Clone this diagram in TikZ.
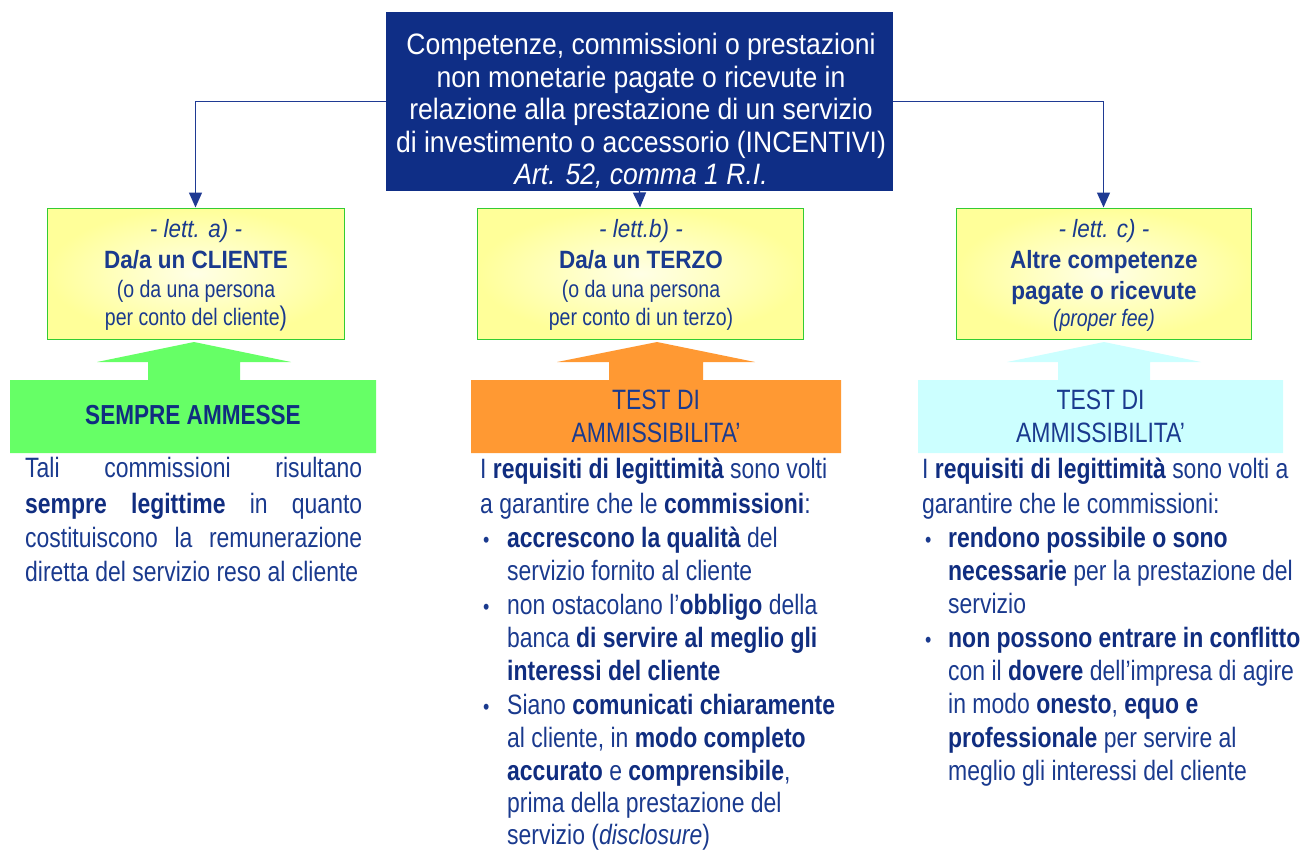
\documentclass[tikz,border=0pt]{standalone}
\usepackage{fontspec}
\setmainfont{Liberation Sans}[FakeStretch=0.9]
\newfontfamily\nf{Liberation Sans}[FakeStretch=0.82]
\usetikzlibrary{arrows.meta}
\definecolor{topblue}{HTML}{0F2E86}
\definecolor{navy}{HTML}{1A3A8E}
\definecolor{bnavy}{HTML}{102D80}
\definecolor{linkblue}{HTML}{1F3A93}
\definecolor{ylwout}{HTML}{FFFF99}
\definecolor{ylwin}{HTML}{FFFFE6}
\definecolor{boxgreen}{HTML}{33CC33}
\definecolor{arrgreen}{HTML}{66FF66}
\definecolor{arrorange}{HTML}{FF9933}
\definecolor{arrcyan}{HTML}{CCFFFF}
\newcommand\hb[1]{\textbf{\color{bnavy}#1}}
\newcommand\fs[1]{\fontsize{#1}{#1}\selectfont}
\newcommand\blt{{\fs{22}\textbullet}}
\tikzset{
  txt/.style={inner sep=0pt, anchor=base west, text=navy, font=\nf\fs{28}},
  ctr/.style={inner sep=0pt, anchor=base, text=navy},
  toptxt/.style={inner sep=0pt, anchor=base, text=white, font=\fs{29.5}},
  ybox/.style={draw=boxgreen, line width=1pt, inner color=ylwin, outer color=ylwout, minimum height=131pt, inner sep=0pt},
  conn/.style={draw=linkblue, line width=1.3pt, -{Triangle[width=13pt,length=15pt]}},
}
\begin{document}
\begin{tikzpicture}[x=1pt,y=-1pt]
\useasboundingbox (0,0) rectangle (1305,851);
% top box
\node[fill=topblue, minimum width=507pt, minimum height=179pt, inner sep=0pt] (top) at (639.5,101.5) {};
\node[toptxt] (t1) at (641,55) {Competenze, commissioni o prestazioni};
\node[toptxt] (t2) at (641,87) {non monetarie pagate o ricevute in};
\node[toptxt] (t3) at (641,119) {relazione alla prestazione di un servizio};
\node[toptxt] (t4) at (641,152) {di investimento o accessorio (INCENTIVI)};
\node[toptxt] (t5) at (641,184) {\itshape Art. 52, comma 1 R.I.};
% yellow boxes
\node[ybox, minimum width=297pt] (boxA) at (195.5,273.5) {};
\node[ybox, minimum width=326pt] (boxB) at (640,273.5) {};
\node[ybox, minimum width=295pt] (boxC) at (1103.5,273.5) {};
% connectors
\draw[conn] (top.west) -| (boxA.north);
\draw[conn] (top.east) -| (boxC.north);
\draw[conn] (top.south) -- (boxB.north);
% box A text
\node[ctr, font=\fs{25}\itshape] (a1) at (196,237) {- lett. a) -};
\node[ctr, font=\fs{25}\bfseries] (a2) at (196,268) {Da/a un CLIENTE};
\node[ctr, font=\nf\fs{23.8}] (a3) at (196,297) {(o da una persona};
\node[ctr, font=\nf\fs{23.8}] (a4) at (196,325) {per conto del cliente{\fs{27})}};
% box B text
\node[ctr, font=\fs{25}\itshape] (b1) at (641,237) {- lett.b) -};
\node[ctr, font=\fs{25}\bfseries] (b2) at (641,268) {Da/a un TERZO};
\node[ctr, font=\nf\fs{23.8}] (b3) at (641,297) {(o da una persona};
\node[ctr, font=\nf\fs{23.8}] (b4) at (641,325) {per conto di un terzo)};
% box C text
\node[ctr, font=\fs{25}\itshape] (c1) at (1104,237) {- lett. c) -};
\node[ctr, font=\fs{25}\bfseries] (c2) at (1104,268) {Altre competenze};
\node[ctr, font=\fs{25}\bfseries] (c3) at (1104,299) {pagate o ricevute};
\node[ctr, font=\nf\fs{23.8}\itshape] (c4) at (1104,326) {(proper fee)};
% block arrows
\fill[arrgreen] (10,453) -- (10,380) -- (148,380) -- (148,362) -- (97,362) -- (194,342) -- (291,362) -- (240,362) -- (240,380) -- (376,380) -- (376,453) -- cycle;
\fill[arrorange] (471,453) -- (471,380) -- (609,380) -- (609,362) -- (557,362) -- (657,342) -- (755,362) -- (703,362) -- (703,380) -- (841,380) -- (841,453) -- cycle;
\fill[arrcyan] (918,453) -- (918,380) -- (1058,380) -- (1058,362) -- (1007,362) -- (1104,342) -- (1201,362) -- (1150,362) -- (1150,380) -- (1283,380) -- (1283,453) -- cycle;
\node[ctr, font=\nf\fs{27.5}\bfseries, text=bnavy] (g1) at (193,424) {SEMPRE AMMESSE};
\node[ctr, font=\nf\fs{28}] (o1) at (656,409) {TEST DI};
\node[ctr, font=\nf\fs{28}] (o2) at (656,442) {AMMISSIBILITA’};
\node[ctr, font=\nf\fs{28}] (k1) at (1100.5,409) {TEST DI};
\node[ctr, font=\nf\fs{28}] (k2) at (1100.5,442) {AMMISSIBILITA’};
% left paragraph
\node[txt] (l1) at (25,477) {\hbox to 337pt{Tali\hfill commissioni\hfill risultano}};
\node[txt] (l2) at (25,513) {\hbox to 337pt{\hb{sempre}\hfill\hb{legittime}\hfill in\hfill quanto}};
\node[txt] (l3) at (25,547) {\hbox to 337pt{costituiscono\hfill la\hfill remunerazione}};
\node[txt] (l4) at (25,581) {diretta del servizio reso al cliente};
% middle paragraph
\node[txt] (m1) at (480,478) {I \hb{requisiti di legittimità} sono volti};
\node[txt] (m2) at (480,513) {a garantire che le \hb{commissioni}:};
\node[txt] (mb1) at (483,547) {\blt};
\node[txt] (m3) at (507,547) {\hb{accrescono la qualità} del};
\node[txt] (m4) at (507,580) {servizio fornito al cliente};
\node[txt] (mb2) at (483,614) {\blt};
\node[txt] (m5) at (507,614) {non ostacolano l’\hb{obbligo} della};
\node[txt] (m6) at (507,647) {banca \hb{di servire al meglio gli}};
\node[txt] (m7) at (507,680) {\hb{interessi del cliente}};
\node[txt] (mb3) at (483,714) {\blt};
\node[txt] (m8) at (507,714) {Siano \hb{comunicati chiaramente}};
\node[txt] (m9) at (507,747) {al cliente, in \hb{modo completo}};
\node[txt] (m10) at (507,780) {\hb{accurato} e \hb{comprensibile},};
\node[txt] (m11) at (507,812) {prima della prestazione del};
\node[txt] (m12) at (507,844) {servizio (\textit{disclosure})};
% right paragraph
\node[txt] (r1) at (922,478) {I \hb{requisiti di legittimità} sono volti a};
\node[txt] (r2) at (922,513) {garantire che le commissioni:};
\node[txt] (rb1) at (925,547) {\blt};
\node[txt] (r3) at (948,547) {\hb{rendono possibile o sono}};
\node[txt] (r4) at (948,580) {\hb{necessarie} per la prestazione del};
\node[txt] (r5) at (948,613) {servizio};
\node[txt] (rb2) at (925,647) {\blt};
\node[txt] (r6) at (948,647) {\hb{non possono entrare in conflitto}};
\node[txt] (r7) at (948,680) {con il \hb{dovere} dell’impresa di agire};
\node[txt] (r8) at (948,713) {in modo \hb{onesto}, \hb{equo e}};
\node[txt] (r9) at (948,747) {\hb{professionale} per servire al};
\node[txt] (r10) at (948,780) {meglio gli interessi del cliente};
\end{tikzpicture}
\end{document}
